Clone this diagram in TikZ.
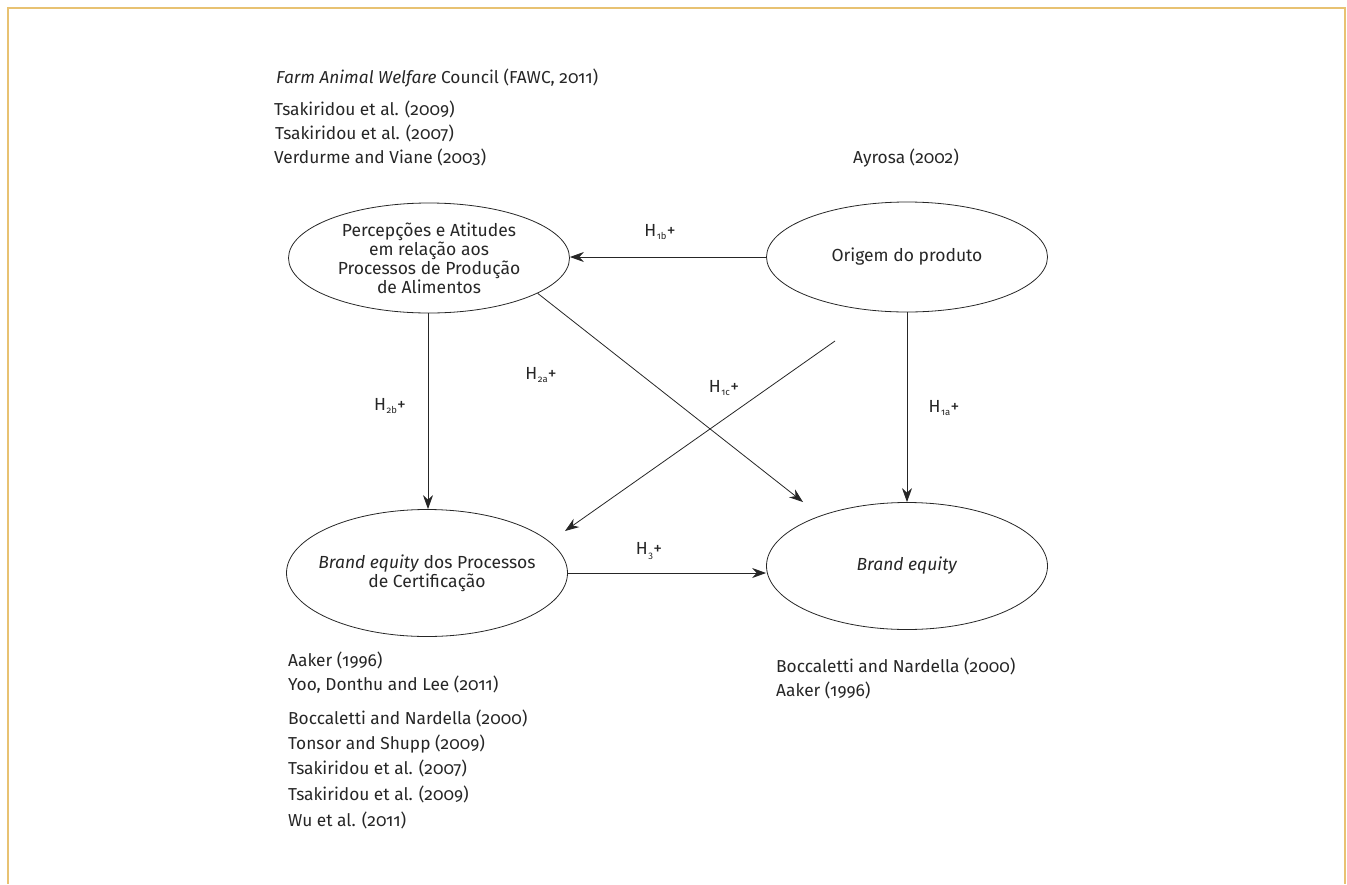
\documentclass[tikz,border=0pt]{standalone}
\usepackage{fontspec}
\setmainfont{Fira Sans}[Numbers=OldStyle]
\usetikzlibrary{arrows.meta,shapes.geometric}
\definecolor{frameorange}{RGB}{232,194,114}
\definecolor{ink}{RGB}{38,38,38}
\newcommand\hyp[1]{H\kern0.6pt\raisebox{-3.5pt}{\fontsize{9.5}{9.5}\selectfont #1}\kern0.3pt+}
\tikzset{
  ell/.style={draw=ink, line width=0.8pt, ellipse, inner sep=0pt, minimum width=281pt},
  elltext/.style={align=center, inner sep=0pt, font=\fontsize{17.5}{19}\selectfont, text=ink},
  ref/.style={anchor=base west, inner sep=0pt, font=\fontsize{17.3}{19}\selectfont, text=ink},
  hlab/.style={inner sep=0pt, font=\fontsize{17.5}{19}\selectfont, text=ink},
  conn/.style={draw=ink, line width=0.8pt, -{Stealth[length=14pt,width=10pt]}}
}
\begin{document}
\begin{tikzpicture}[x=1pt,y=-1pt]
\useasboundingbox (0,0) rectangle (1347,884);
\draw[frameorange, line width=1.6pt] (8,884) -- (8,8) -- (1345,8) -- (1345,884);

% ellipses
\node[ell, minimum height=110pt] (P) at (429,258) {};
\node[elltext] (Pt) at (P.center) {Percepções e Atitudes\\em relação aos\\Processos de Produção\\de Alimentos};
\node[ell, minimum height=110pt] (O) at (907,257) {};
\node[elltext] (Ot) at (O.center) {Origem do produto};
\node[ell, minimum height=127pt] (B) at (427,573) {};
\node[elltext] (Bt) at (B.center) {\textit{Brand equity} dos Processos\\de Certificação};
\node[ell, minimum height=127pt] (E) at (907,566) {};
\node[elltext] (Et) at (E.center) {\textit{Brand equity}};

% free ends
\coordinate (pe) at (803,502);
\coordinate (cs) at (835,341);
\coordinate (ce) at (565,531);

% connectors
\draw[conn] (O.west) -- (O.west -| P.east);
\draw[conn] (P.south -| 428,0) -- (B.north -| 428,0);
\draw[conn] (O.south) -- (E.north);
\draw[conn] (P.-18.6) -- (pe);
\draw[conn] (cs) -- (ce);
\draw[conn] (B.east) -- (B.east -| E.west);

% hypothesis labels
\node[hlab] (h1b) at (660,232) {\hyp{1b}};
\node[hlab] (h2b) at (390,406) {\hyp{2b}};
\node[hlab] (h2a) at (541,375) {\hyp{2a}};
\node[hlab] (h1c) at (724,388) {\hyp{1c}};
\node[hlab] (h1a) at (944,408) {\hyp{1a}};
\node[hlab] (h3) at (649,551) {\hyp{3}};

% references
\node[ref] (r1) at (276,83) {\textit{Farm Animal Welfare} Council (FAWC, 2011)};
\node[ref] (r2) at (274,115) {Tsakiridou et al. (2009)};
\node[ref] (r3) at (275,139) {Tsakiridou et al. (2007)};
\node[ref] (r4) at (274,163) {Verdurme and Viane (2003)};
\node[ref, anchor=base] (r5) at (906,163) {Ayrosa (2002)};

\node[ref] (b1) at (288,666) {Aaker (1996)};
\node[ref] (b2) at (288,690) {Yoo, Donthu and Lee (2011)};
\node[ref] (b3) at (288,724) {Boccaletti and Nardella (2000)};
\node[ref] (b4) at (288,749) {Tonsor and Shupp (2009)};
\node[ref] (b5) at (288,774) {Tsakiridou et al. (2007)};
\node[ref] (b6) at (288,800) {Tsakiridou et al. (2009)};
\node[ref] (b7) at (288,826) {Wu et al. (2011)};

\node[ref] (e1) at (776,672) {Boccaletti and Nardella (2000)};
\node[ref] (e2) at (776,696) {Aaker (1996)};
\end{tikzpicture}
\end{document}
